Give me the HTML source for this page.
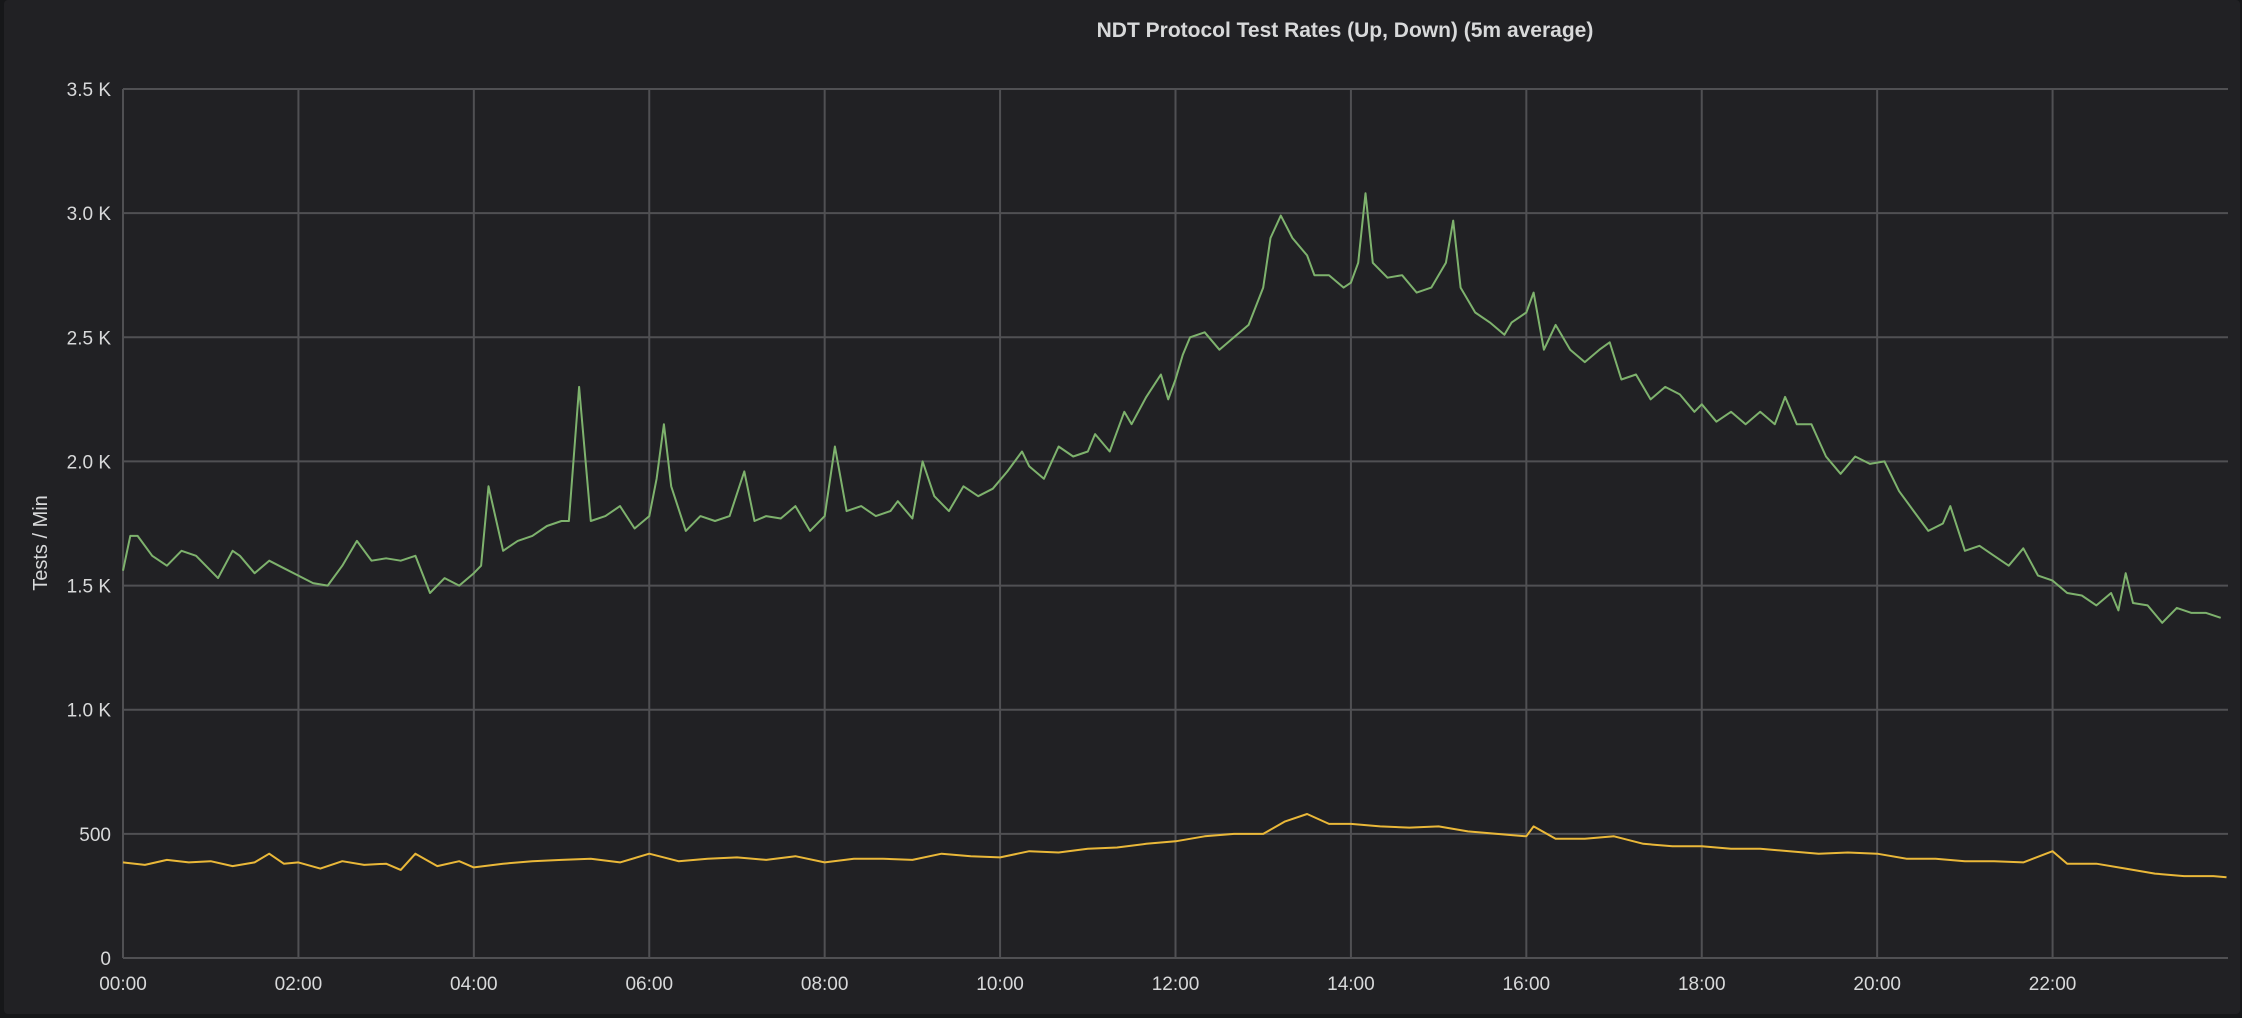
<!DOCTYPE html>
<html><head><meta charset="utf-8"><style>
html,body{margin:0;padding:0;background:#161719;}
#panel{position:absolute;left:4px;top:0;width:2236px;height:1014px;background:#212124;border-radius:4px;}
svg{position:absolute;left:0;top:0;}
text{font-family:"Liberation Sans",sans-serif;fill:#d8d9da;}
</style></head><body>
<div id="panel"></div>
<svg id="chart" width="2242" height="1018">
<text x="1345" y="37" text-anchor="middle" font-size="21" font-weight="bold">NDT Protocol Test Rates (Up, Down) (5m average)</text>
<text transform="translate(47,543) rotate(-90)" text-anchor="middle" font-size="20">Tests / Min</text>
<g id="grid"></g><g id="ticks"></g><g id="series"></g>
</svg>
<script>
const yTicks=[0,500,1000,1500,2000,2500,3000,3500];
const yTickLabels=["0","500","1.0 K","1.5 K","2.0 K","2.5 K","3.0 K","3.5 K"];
const xTicks=[0,2,4,6,8,10,12,14,16,18,20,22];
const xTickLabels=["00:00","02:00","04:00","06:00","08:00","10:00","12:00","14:00","16:00","18:00","20:00","22:00"];
const greenTimes=["0:00","0:05","0:10","0:20","0:30","0:40","0:50","1:00","1:05","1:15","1:20","1:30","1:40","1:50","2:00","2:10","2:20","2:30","2:40","2:50","3:00","3:10","3:20","3:30","3:40","3:50","4:00","4:05","4:10","4:20","4:30","4:40","4:50","5:00","5:05","5:12","5:20","5:30","5:40","5:50","6:00","6:05","6:10","6:15","6:25","6:35","6:45","6:55","7:05","7:12","7:20","7:30","7:40","7:50","8:00","8:07","8:15","8:25","8:35","8:45","8:50","9:00","9:07","9:15","9:25","9:35","9:45","9:55","10:05","10:15","10:20","10:30","10:40","10:50","11:00","11:05","11:15","11:25","11:30","11:40","11:50","11:55","12:00","12:05","12:10","12:20","12:30","12:40","12:50","13:00","13:05","13:12","13:20","13:30","13:35","13:45","13:55","14:00","14:05","14:10","14:15","14:25","14:35","14:45","14:55","15:05","15:10","15:15","15:25","15:35","15:45","15:50","16:00","16:05","16:12","16:20","16:30","16:40","16:50","16:57","17:05","17:15","17:25","17:35","17:45","17:55","18:00","18:10","18:20","18:30","18:40","18:50","18:57","19:05","19:15","19:25","19:35","19:45","19:55","20:05","20:15","20:25","20:35","20:45","20:50","21:00","21:10","21:20","21:30","21:40","21:50","22:00","22:10","22:20","22:30","22:40","22:45","22:50","22:55","23:05","23:15","23:25","23:35","23:45","23:55"];
const greenValues=[1560,1700,1700,1620,1580,1640,1620,1560,1530,1640,1620,1550,1600,1570,1540,1510,1500,1580,1680,1600,1610,1600,1620,1470,1530,1500,1550,1580,1900,1640,1680,1700,1740,1760,1760,2300,1760,1780,1820,1730,1780,1930,2150,1900,1720,1780,1760,1780,1960,1760,1780,1770,1820,1720,1780,2060,1800,1820,1780,1800,1840,1770,2000,1860,1800,1900,1860,1890,1960,2040,1980,1930,2060,2020,2040,2110,2040,2200,2150,2260,2350,2250,2330,2430,2500,2520,2450,2500,2550,2700,2900,2990,2900,2830,2750,2750,2700,2720,2800,3080,2800,2740,2750,2680,2700,2800,2970,2700,2600,2560,2510,2560,2600,2680,2450,2550,2450,2400,2450,2480,2330,2350,2250,2300,2270,2200,2230,2160,2200,2150,2200,2150,2260,2150,2150,2020,1950,2020,1990,2000,1880,1800,1720,1750,1820,1640,1660,1620,1580,1650,1540,1520,1470,1460,1420,1470,1400,1550,1430,1420,1350,1410,1390,1390,1370];
const yellowTimes=["0:00","0:15","0:30","0:45","1:00","1:15","1:30","1:40","1:50","2:00","2:15","2:30","2:45","3:00","3:10","3:20","3:35","3:50","4:00","4:20","4:40","5:00","5:20","5:40","6:00","6:20","6:40","7:00","7:20","7:40","8:00","8:20","8:40","9:00","9:20","9:40","10:00","10:20","10:40","11:00","11:20","11:40","12:00","12:20","12:40","13:00","13:15","13:30","13:45","14:00","14:20","14:40","15:00","15:20","15:40","16:00","16:05","16:20","16:40","17:00","17:20","17:40","18:00","18:20","18:40","19:00","19:20","19:40","20:00","20:20","20:40","21:00","21:20","21:40","22:00","22:10","22:30","22:50","23:10","23:30","23:50","23:59"];
const yellowValues=[385,375,395,385,390,370,385,420,380,385,360,390,375,380,355,420,370,390,365,380,390,395,400,385,420,390,400,405,395,410,385,400,400,395,420,410,405,430,425,440,445,460,470,490,500,500,550,580,540,540,530,525,530,510,500,490,530,480,480,490,460,450,450,440,440,430,420,425,420,400,400,390,390,385,430,380,380,360,340,330,330,325];
const X0=123,X1=2228,Y0=958,Y1=89;
const xScale=h=>X0+(X1-X0)*h/24;
const yScale=v=>Y0-(Y0-Y1)*v/3500;
const toH=s=>{const[p,q]=s.split(':');return +p + (+q)/60;};
const NS="http://www.w3.org/2000/svg";
const grid=document.getElementById('grid'),ticks=document.getElementById('ticks'),ser=document.getElementById('series');
yTicks.forEach((v,i)=>{
 const l=document.createElementNS(NS,'line');
 l.setAttribute('x1',X0);l.setAttribute('x2',X1);l.setAttribute('y1',yScale(v));l.setAttribute('y2',yScale(v));
 l.setAttribute('stroke','#505053');l.setAttribute('stroke-width','2');
 
 
 grid.appendChild(l);
 const t=document.createElementNS(NS,'text');
 t.setAttribute('x',X0-12);t.setAttribute('y',yScale(v)+7);t.setAttribute('text-anchor','end');t.setAttribute('font-size','19');
 t.textContent=yTickLabels[i];
 
 
 ticks.appendChild(t);
});
const vl=document.createElementNS(NS,'line');
vl.setAttribute('x1',X0);vl.setAttribute('x2',X0);vl.setAttribute('y1',Y1);vl.setAttribute('y2',Y0);
vl.setAttribute('stroke','#505053');vl.setAttribute('stroke-width','2');


grid.appendChild(vl);
xTicks.forEach((h,i)=>{
 const l=document.createElementNS(NS,'line');
 l.setAttribute('x1',xScale(h));l.setAttribute('x2',xScale(h));l.setAttribute('y1',Y1);l.setAttribute('y2',Y0);
 l.setAttribute('stroke','#505053');l.setAttribute('stroke-width','2');
 
 
 grid.appendChild(l);
 const t=document.createElementNS(NS,'text');
 t.setAttribute('x',xScale(h));t.setAttribute('y',Y0+32);t.setAttribute('text-anchor','middle');t.setAttribute('font-size','19');
 t.textContent=xTickLabels[i];
 
 
 ticks.appendChild(t);
});
function draw(times,vals,color,name){
 const p=document.createElementNS(NS,'polyline');
 p.setAttribute('points',times.map((s,i)=>xScale(toH(s)).toFixed(1)+','+yScale(vals[i]).toFixed(1)).join(' '));
 p.setAttribute('fill','none');p.setAttribute('stroke',color);p.setAttribute('stroke-width','2');p.setAttribute('stroke-linejoin','round');
 
 
 ser.appendChild(p);
}
draw(greenTimes,greenValues,'#7eb26d','series-down-line');
draw(yellowTimes,yellowValues,'#eab839','series-up-line');
</script>
</body></html>
